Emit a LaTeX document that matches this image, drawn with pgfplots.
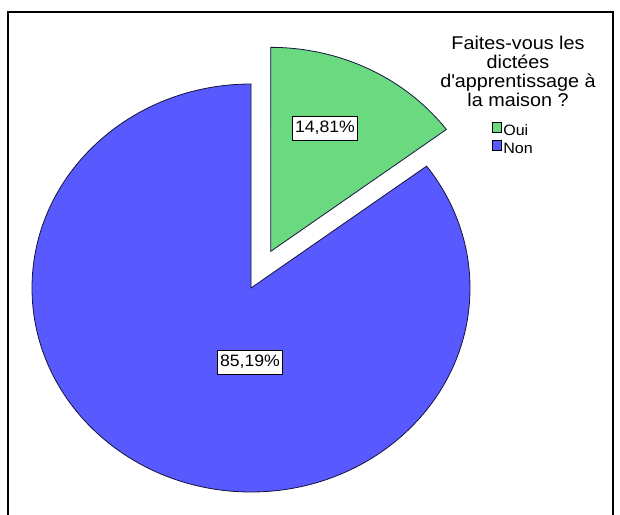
\documentclass[border=0pt]{standalone}
\usepackage{pgfplots}
\pgfplotsset{compat=1.18}
\usepackage{pgfplotstable}
\usepackage{fontspec}
\setmainfont{Liberation Sans}[FakeStretch=1.07]
\definecolor{pieGreen}{RGB}{106,217,128}
\definecolor{pieBlue}{RGB}{88,90,255}
\definecolor{edgecol}{RGB}{20,20,60}

\pgfplotstableread{
label value
Oui 14.81
Non 85.19
}\piedata

\begin{document}
\begin{tikzpicture}
\pgfplotstablegetelem{0}{value}\of\piedata \let\vOui\pgfplotsretval
\pgfplotstablegetelem{1}{value}\of\piedata \let\vNon\pgfplotsretval
\pgfmathsetmacro{\tot}{\vOui+\vNon}
\pgfmathsetmacro{\aOui}{360*\vOui/\tot}
\pgfmathsetmacro{\aStart}{90-\aOui}
\pgfmathsetmacro{\aEnd}{360+\aStart}
\pgfmathsetmacro{\aMid}{90-\aOui/2}
\def\cx{251}\def\cy{227}\def\rx{219}\def\ry{204}\def\dd{41}
\pgfmathsetmacro{\gx}{\cx+\dd*(\rx/\ry)*cos(\aMid)}
\pgfmathsetmacro{\gy}{\cy+\dd*sin(\aMid)}
\pgfmathsetmacro{\gsx}{\gx+\rx*cos(\aStart)}
\pgfmathsetmacro{\gsy}{\gy+\ry*sin(\aStart)}
\pgfmathsetmacro{\nty}{\cy+\ry}
\begin{axis}[
  x=1bp, y=1bp,
  xmin=0, xmax=620, ymin=0, ymax=515,
  hide axis, clip=true,
  legend style={at={(axis cs:492,393)}, anchor=north west, draw=none, fill=none,
    inner sep=0pt, row sep=0pt,
    font=\fontsize{15bp}{17bp}\selectfont,
    nodes={inner sep=1.5bp, text height=11bp, text depth=3bp}},
  legend cell align=left,
  legend image code/.code={\draw[#1] (0bp,-1bp) rectangle (9bp,9bp);},
]
\path (axis cs:0,0) rectangle (axis cs:620,515);
\addlegendimage{fill=pieGreen, draw=black, line width=0.6bp}
\addlegendentry{Oui}
\addlegendimage{fill=pieBlue, draw=black, line width=0.6bp}
\addlegendentry{Non}

% frame
\draw[black, line width=1.6bp] (axis cs:8,-10) -- (axis cs:8,503) -- (axis cs:613,503) -- (axis cs:613,-10);

% Non slice
\filldraw[fill=pieBlue, draw=edgecol, line width=0.8bp, line join=miter]
  (axis cs:\cx,\cy) -- (axis cs:\cx,\nty)
  arc[start angle=90, end angle=\aEnd, x radius=\rx bp, y radius=\ry bp] -- cycle;
% Oui slice (exploded)
\filldraw[fill=pieGreen, draw=edgecol, line width=0.8bp, line join=miter]
  (axis cs:\gx,\gy) -- (axis cs:\gsx,\gsy)
  arc[start angle=\aStart, end angle=90, x radius=\rx bp, y radius=\ry bp] -- cycle;

% labels
\node[fill=white, draw=black, line width=0.6bp, inner xsep=2.5bp, inner ysep=5bp,
  font=\fontsize{16.5bp}{19bp}\selectfont] at (axis cs:250,153)
  {\pgfmathprintnumber[fixed, fixed zerofill, precision=2, use comma, assume math mode=true]{\vNon}\%};
\node[fill=white, draw=black, line width=0.6bp, inner xsep=2.5bp, inner ysep=5bp,
  font=\fontsize{16.5bp}{19bp}\selectfont] at (axis cs:325,387)
  {\pgfmathprintnumber[fixed, fixed zerofill, precision=2, use comma, assume math mode=true]{\vOui}\%};

% legend title
\node[align=center, inner sep=0pt, font=\fontsize{18.5bp}{19bp}\selectfont] at (axis cs:518,443.5)
  {Faites-vous les\\dictées\\d\textquotesingle apprentissage à\\la maison ?};
\end{axis}
\end{tikzpicture}
\end{document}
